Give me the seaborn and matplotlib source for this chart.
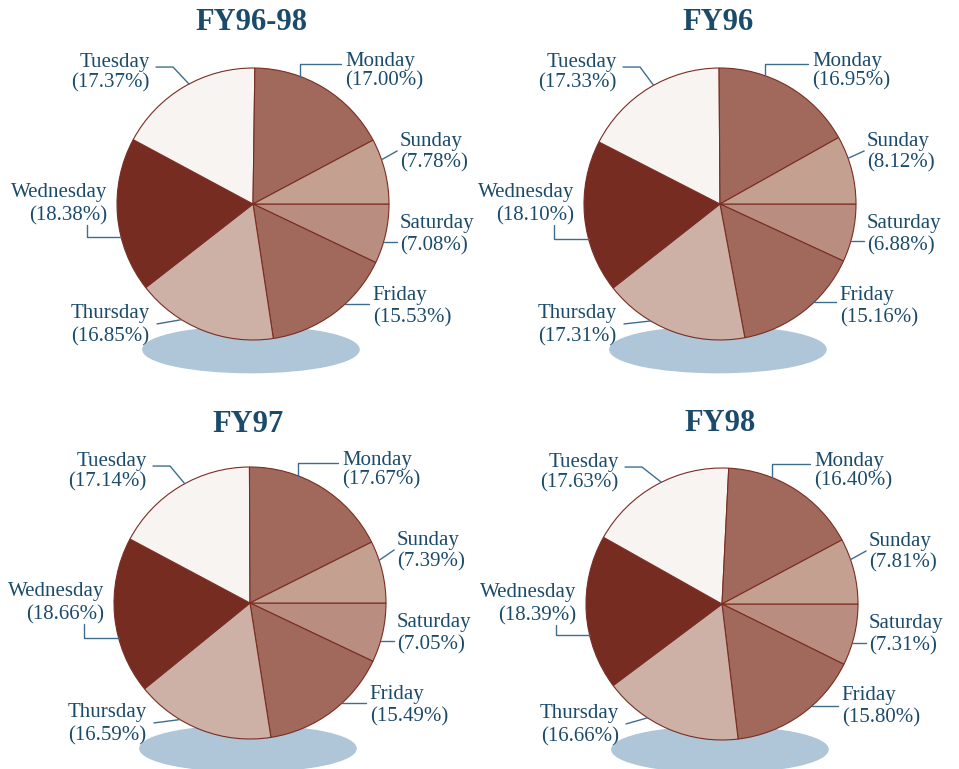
import matplotlib
matplotlib.use("Agg")
import matplotlib.pyplot as plt
import seaborn as sns
import numpy as np
from matplotlib.patches import Ellipse

# ---------------- data ----------------
# slices drawn clockwise starting at 3 o'clock
days = ["Saturday", "Friday", "Thursday", "Wednesday", "Tuesday", "Monday", "Sunday"]
fy96_98 = [7.08, 15.53, 16.85, 18.38, 17.37, 17.00, 7.78]
fy96 = [6.88, 15.16, 17.31, 18.10, 17.33, 16.95, 8.12]
fy97 = [7.05, 15.49, 16.59, 18.66, 17.14, 17.67, 7.39]
fy98 = [7.31, 15.80, 16.66, 18.39, 17.63, 16.40, 7.81]
titles = ["FY96-98", "FY96", "FY97", "FY98"]

# ---------------- style ----------------
sns.set_theme(style="white")
plt.rcParams['font.family'] = ['Liberation Serif', 'DejaVu Serif']

day_colors = {
    "Monday": "#A0695B", "Sunday": "#C4A091", "Saturday": "#B98D80",
    "Friday": "#A0695B", "Thursday": "#CDB1A6", "Wednesday": "#772C22",
    "Tuesday": "#F8F4F2",
}
slice_colors = sns.color_palette([day_colors[d] for d in days])
edge_color = "#7B2D23"
text_color = "#1B4B6B"
line_color = "#3E6E8E"
shadow_color = "#AFC6D8"

# label layout (pie radius = 1 unit)
layout = {
    "Monday":    dict(off=11.0, path=[("v", 1.03), ("h", 0.647)], tx=0.676, ha="left", y1=1.015, y2=0.868),
    "Sunday":    dict(off=5.0, path=[(1.06, 0.39)], tx=1.08, ha="left", y1=0.43, y2=0.27),
    "Saturday":  dict(off=-3.5, path=[("h", 1.06)], tx=1.08, ha="left", y1=-0.18, y2=-0.345),
    "Friday":    dict(off=6.0, path=[("h", 0.85)], tx=0.88, ha="left", y1=-0.705, y2=-0.87),
    "Thursday":  dict(off=-10.0, path=[(-0.706, -0.882)], tx=-0.76, ha="right", y1=-0.84, y2=-1.01),
    "Wednesday": dict(off=9.4, path=[("h", -1.22), ("v", -0.154)], tx=-1.07, ha="right", y1=0.05, y2=-0.12),
    "Tuesday":   dict(off=-2.4, path=[(-0.588, 1.007), ("h", -0.713)], tx=-0.76, ha="right", y1=1.01, y2=0.855),
}

W, H = 959, 769
R = 136.0
centers = [(253, 204), (720, 204), (250, 603), (722, 604)]
title_base = [30, 30, 432, 431]
panel_boxes = [(0, 0), (479, 0), (0, 385), (479, 385)]
pw, ph = 480, 384

fig = plt.figure(figsize=(W / 100, H / 100), dpi=100)

for title, values, (cx, cy), (L, T), tb in zip(titles, [fy96_98, fy96, fy97, fy98],
                                                 centers, panel_boxes, title_base):
    ax = fig.add_axes([L / W, 1 - (T + ph) / H, pw / W, ph / H])
    ax.add_patch(Ellipse((-0.015, -1.07), 1.59, 0.34, color=shadow_color, zorder=0, clip_on=False))
    wedges, _ = ax.pie(values, colors=slice_colors, startangle=0, counterclock=False,
                       radius=1, center=(0, 0),
                       wedgeprops=dict(edgecolor=edge_color, linewidth=0.8, zorder=1))
    for w in wedges:
        w.set_clip_on(False)
    ax.set_aspect('auto')
    ax.set_xlim((L - cx) / R, (L + pw - cx) / R)
    ax.set_ylim((cy - (T + ph)) / R, (cy - T) / R)
    ax.axis('off')

    total = float(sum(values))
    cum = 0.0
    for day, v in zip(days, values):
        t1 = 0 - 360 * cum / total
        cum += v
        t2 = 0 - 360 * cum / total
        mid = (t1 + t2) / 2
        lay = layout[day]
        ang = np.deg2rad(mid + lay["off"])
        px, py = np.cos(ang), np.sin(ang)
        xs, ys = [px], [py]
        for p in lay["path"]:
            if p[0] == "h":
                xs.append(p[1]); ys.append(ys[-1])
            elif p[0] == "v":
                xs.append(xs[-1]); ys.append(p[1])
            else:
                xs.append(p[0]); ys.append(p[1])
        ax.plot(xs, ys, color=line_color, lw=1.0, zorder=3, clip_on=False)
        ax.text(lay["tx"], lay["y1"], day, ha=lay["ha"], va="baseline",
                fontsize=15, color=text_color, zorder=4)
        ax.text(lay["tx"], lay["y2"], f"({v:.2f}%)", ha=lay["ha"], va="baseline",
                fontsize=15, color=text_color, zorder=4)

    ax.text(-0.015, (cy - tb) / R, title, ha="center", va="baseline",
            fontsize=22, fontweight="bold", color=text_color)

fig.savefig("out.png", dpi=100)
